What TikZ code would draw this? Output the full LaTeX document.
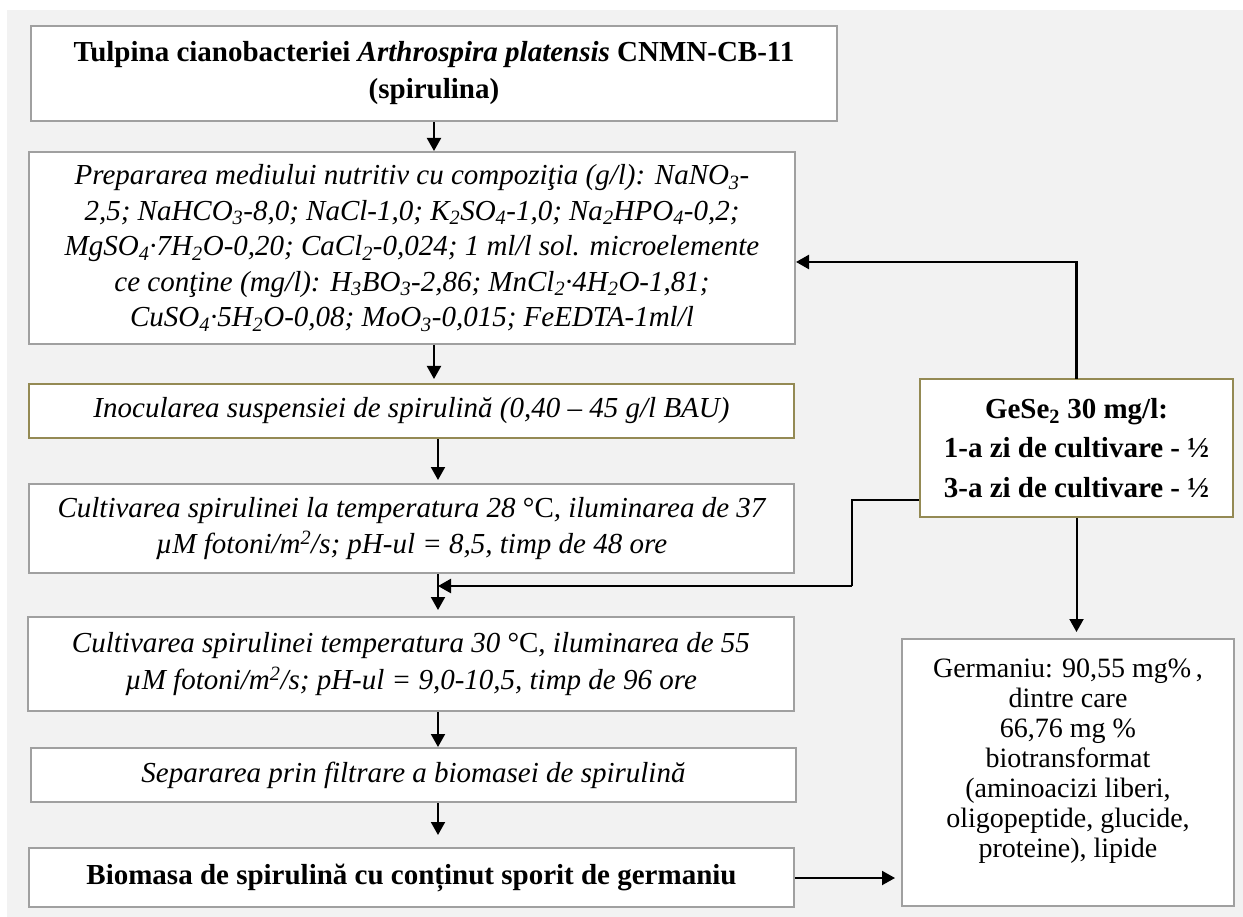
\documentclass[tikz,border=0pt]{standalone}
\usepackage{fontspec}
\setmainfont{Liberation Serif}
\usetikzlibrary{arrows.meta}
\definecolor{bgcol}{HTML}{F2F2F2}
\definecolor{boxgray}{HTML}{A0A0A0}
\definecolor{boxolive}{HTML}{948A54}
\newcommand{\sbs}[1]{\textsubscript{#1}}
\begin{document}
\begin{tikzpicture}[x=1pt,y=-1pt,
  box/.style={draw=boxgray, line width=2pt, fill=white, anchor=north west, inner sep=0pt, align=center, font=\fontsize{29}{36}\selectfont},
  olivebox/.style={box, draw=boxolive},
  arr/.style={line width=2pt, -{Triangle[length=13pt,width=14pt]}},
  link/.style={line width=2.5pt, line cap=rect}]
\useasboundingbox (0,0) rectangle (1243,917);
\fill[bgcol] (7,10) rectangle (1243,917);

\node[box, minimum width=806pt, minimum height=95pt, font=\fontsize{29}{37}\selectfont\bfseries] (b1) at (30,25)
  {Tulpina cianobacteriei \textit{Arthrospira platensis} CNMN-CB-11\\(spirulina)};

\node[box, minimum width=766pt, minimum height=192pt, font=\fontsize{29}{35.5}\selectfont\itshape] (b2) at (28,151)
  {Prepararea mediului nutritiv cu compoziţia (g/l): NaNO\sbs{3}-\\
   2,5; NaHCO\sbs{3}-8,0; NaCl-1,0; K\sbs{2}SO\sbs{4}-1,0; Na\sbs{2}HPO\sbs{4}-0,2;\\
   MgSO\sbs{4}·7H\sbs{2}O-0,20; CaCl\sbs{2}-0,024; 1 ml/l sol. microelemente\\
   ce conţine (mg/l): H\sbs{3}BO\sbs{3}-2,86; MnCl\sbs{2}·4H\sbs{2}O-1,81;\\
   CuSO\sbs{4}·5H\sbs{2}O-0,08; MoO\sbs{3}-0,015; FeEDTA-1ml/l};

\node[olivebox, minimum width=765pt, minimum height=54pt, font=\fontsize{29}{36}\selectfont\itshape] (b3) at (28,383)
  {Inocularea suspensiei de spirulină (0,40 – 45 g/l BAU)};

\node[box, minimum width=765pt, minimum height=89pt, font=\fontsize{29}{36}\selectfont\itshape] (b4) at (28,483)
  {Cultivarea spirulinei la temperatura 28 \textup{°C}, iluminarea de 37\\
   µM fotoni/m\textsuperscript{2}/s; pH-ul = 8,5, timp de 48 ore};

\node[box, minimum width=766pt, minimum height=94pt, font=\fontsize{29}{37}\selectfont\itshape] (b5) at (27,616)
  {Cultivarea spirulinei temperatura 30 \textup{°C}, iluminarea de 55\\
   µM fotoni/m\textsuperscript{2}/s; pH-ul = 9,0-10,5, timp de 96 ore};

\node[box, minimum width=765pt, minimum height=54pt, font=\fontsize{29}{36}\selectfont\itshape] (b6) at (30,747)
  {Separarea prin filtrare a biomasei de spirulină};

\node[box, minimum width=765pt, minimum height=59pt, font=\fontsize{29}{36}\selectfont\bfseries] (b7) at (28,847)
  {Biomasa de spirulină cu conținut sporit de germaniu};

\node[olivebox, minimum width=313pt, minimum height=138pt, font=\fontsize{29}{39.5}\selectfont\bfseries] (g) at (919,378)
  {GeSe\sbs{2} 30 mg/l:\\1-a zi de cultivare - ½\\3-a zi de cultivare - ½};

\node[box, minimum width=332pt, minimum height=267pt] (r) at (901,638) {};
\node[align=center, inner sep=0pt, font=\fontsize{28}{30}\selectfont] (rt) at ([yshift=11pt]r.center)
  {Germaniu: 90,55 mg\%\,,\\dintre care\\66,76 mg \%\\biotransformat\\(aminoacizi liberi,\\oligopeptide, glucide,\\proteine), lipide};

% vertical main flow
\coordinate (col) at (438,0);
\draw[arr] (b1.south) -- (b1.south |- b2.north);
\draw[arr, shorten >=4pt] (b1.south |- b2.south) -- (b1.south |- b3.north);
\draw[arr, shorten >=3pt] (col |- b3.south) -- (col |- b4.north);
\draw[arr, shorten >=6pt] (col |- b4.south) -- (col |- b5.north);
\draw[arr] (col |- b5.south) -- (col |- b6.north);
\draw[arr, shorten >=12pt] (col |- b6.south) -- (col |- b7.north);

% feedback from GeSe2 box to preparation box
\coordinate (k1) at (1075,262);
\draw[link] (g.north) -- (g.north |- k1);
\draw[arr, line width=2.5pt] (g.north |- k1) -- (b2.east |- k1);

% GeSe2 box to second cultivation stage
\coordinate (j1) at (852,500);
\coordinate (j2) at (852,586);
\draw[line width=2pt] (g.west |- j1) -- (j1) -- (j2);
\draw[arr, line width=2.5pt] (j2) -- (col |- j2);

% to result box
\draw[arr, shorten >=6pt] (g.south) -- (g.south |- r.north);
\draw[arr, shorten >=6pt] (b7.east |- 0,878) -- (r.west |- 0,878);
\end{tikzpicture}
\end{document}
